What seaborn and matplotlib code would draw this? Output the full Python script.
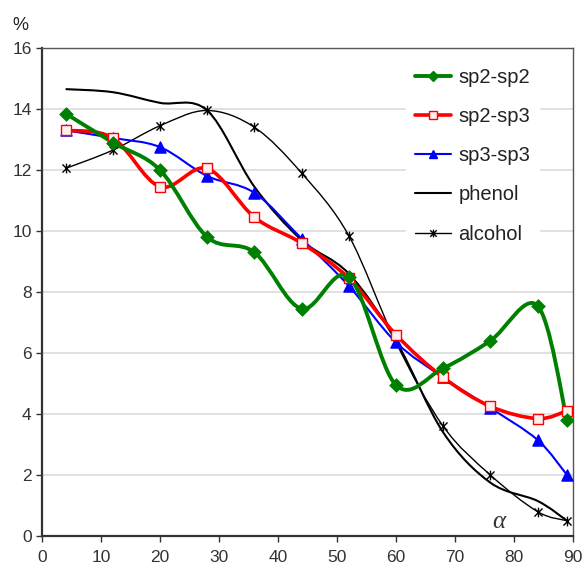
import numpy as np
import pandas as pd
import matplotlib
matplotlib.use("Agg")
import matplotlib.pyplot as plt
import seaborn as sns
from matplotlib.path import Path
from matplotlib.patches import PathPatch
from matplotlib.lines import Line2D

# angle alpha (deg)
alpha = [4, 12, 20, 28, 36, 44, 52, 60, 68, 76, 84, 89]

sp2_sp2 = [13.85, 12.9, 12.0, 9.8, 9.3, 7.45, 8.5, 4.95, 5.5, 6.4, 7.55, 3.8]
sp2_sp3 = [13.3, 13.05, 11.45, 12.05, 10.45, 9.6, 8.45, 6.6, 5.2, 4.25, 3.85, 4.1]
sp3_sp3 = [13.3, 13.05, 12.75, 11.8, 11.25, 9.75, 8.2, 6.35, 5.2, 4.2, 3.15, 2.0]
phenol = [14.65, 14.55, 14.2, 13.95, 11.45, 9.7, 8.6, 6.4, 3.4, 1.75, 1.15, 0.5]
alcohol = [12.05, 12.65, 13.45, 13.95, 13.4, 11.9, 9.85, 6.35, 3.6, 2.0, 0.8, 0.5]

series = ["sp2-sp2", "sp2-sp3", "sp3-sp3", "phenol", "alcohol"]
values = [sp2_sp2, sp2_sp3, sp3_sp3, phenol, alcohol]

df = pd.DataFrame({"alpha": alpha * len(series),
                   "pct": sum(values, []),
                   "series": np.repeat(series, len(alpha))})

star = Path([(-1, -1), (1, 1), (-1, 1), (1, -1), (0, -1.2), (0, 1.2)],
            [Path.MOVETO, Path.LINETO, Path.MOVETO, Path.LINETO, Path.MOVETO, Path.LINETO])

styles = {
    "sp2-sp2": dict(color="#008000", lw=2.8, marker="D", ms=7, mfc="#008000"),
    "sp2-sp3": dict(color="#ff0000", lw=2.6, marker="s", ms=7, mfc="#fff0f0"),
    "sp3-sp3": dict(color="#0000ff", lw=1.5, marker="^", ms=8, mfc="#0000ff"),
    "phenol": dict(color="black", lw=1.5, marker=None, ms=0, mfc="none"),
    "alcohol": dict(color="black", lw=1.0, marker=star, ms=7, mfc="none"),
}


def smooth_path(xs, ys):
    # excel-like smoothed line: bezier through the points
    p = np.column_stack([xs, ys]).astype(float)
    n = len(p)
    verts = [p[0]]
    codes = [Path.MOVETO]
    for i in range(n - 1):
        p0 = p[i - 1] if i > 0 else p[i]
        p3 = p[i + 2] if i + 2 < n else p[i + 1]
        c1 = p[i] + (p[i + 1] - p0) / 6
        c2 = p[i + 1] - (p3 - p[i]) / 6
        verts += [c1, c2, p[i + 1]]
        codes += [Path.CURVE4] * 3
    return Path(verts, codes)


sns.set_style("white")
plt.rcParams["font.family"] = ["Liberation Sans", "DejaVu Sans"]

fig = plt.figure(figsize=(5.87, 5.71), dpi=100)
ax = fig.add_axes([0.0716, 0.0613, 0.9044, 0.8547])

for name in ["phenol", "alcohol", "sp3-sp3", "sp2-sp3", "sp2-sp2"]:
    st = styles[name]
    sub = df[df["series"] == name]
    ax.add_patch(PathPatch(smooth_path(sub["alpha"], sub["pct"]), fill=False,
                           edgecolor=st["color"], lw=st["lw"], zorder=3))
    if st["marker"] is not None:
        sns.scatterplot(data=sub, x="alpha", y="pct", ax=ax, marker=st["marker"],
                        s=st["ms"] ** 2, color=st["mfc"] if st["mfc"] != "none" else st["color"],
                        edgecolor=st["color"], linewidth=1.0 if name != "sp2-sp2" else 0.5,
                        zorder=4, legend=False)

ax.set_xlim(0, 90)
ax.set_ylim(0, 16)
ax.set_xticks(range(0, 91, 10))
ax.set_yticks(range(0, 17, 2))
ax.set_xlabel("")
ax.set_ylabel("")
ax.yaxis.grid(True, color="#dcdcdc", lw=1.2)
ax.set_axisbelow(True)
ax.tick_params(axis="both", labelsize=12.5, colors="#333333", length=4, width=1,
               direction="out", bottom=True, left=True)
ax.tick_params(axis="x", pad=6)
for side in ["left", "bottom"]:
    ax.spines[side].set_color("#333333")
    ax.spines[side].set_linewidth(1.6)
for side in ["top", "right"]:
    ax.spines[side].set_color("#555555")
    ax.spines[side].set_linewidth(1.0)

handles = []
for name in series:
    st = styles[name]
    handles.append(Line2D([], [], color=st["color"], lw=st["lw"],
                          marker=st["marker"], ms=st["ms"] * 0.8,
                          mfc=st["mfc"] if st["mfc"] != "none" else st["color"],
                          mec=st["color"]))
leg = ax.legend(handles, series, loc="upper right", bbox_to_anchor=(0.956, 0.998),
                frameon=True, fontsize=14.5, handlelength=1.8, labelspacing=1.0,
                borderpad=0.45, handletextpad=0.35)
leg.get_frame().set_edgecolor("white")
leg.get_frame().set_facecolor("white")
leg.get_frame().set_alpha(1.0)
for t in leg.get_texts():
    t.set_color("#222222")

fig.text(0.035, 0.955, "%", fontsize=13, color="#222222", ha="center", va="center")
ax.text(77.5, 0.45, "α", fontsize=18, color="#333333", ha="center", va="center",
        family="Liberation Serif", style="italic")

fig.savefig("out.png", dpi=100)
